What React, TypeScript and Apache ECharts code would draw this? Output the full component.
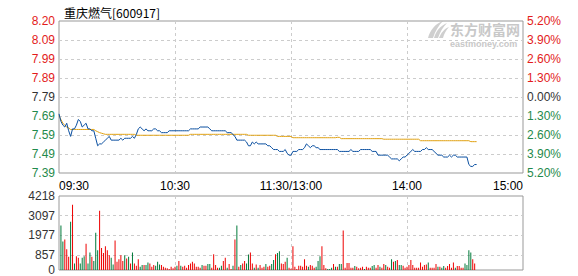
import React, { useEffect, useRef } from 'react';
import * as echarts from 'echarts';

const stockTitle = '重庆燃气[600917]';
const prevClose = 7.79;
const timeLabels = ['09:30', '10:30', '11:30/13:00', '14:00', '15:00'];
const priceLabels = ['7.39', '7.49', '7.59', '7.69', '7.79', '7.89', '7.99', '8.09', '8.20'];
const pctLabels = ['5.20%', '3.90%', '2.60%', '1.30%', '0.00%', '1.30%', '2.60%', '3.90%', '5.20%'];
const volLabelValues = [0, 857, 1977, 3097, 4218];

const prices = [
  7.70, 7.66, 7.64, 7.63, 7.65, 7.61, 7.58, 7.62, 7.62, 7.64,
  7.67, 7.66, 7.63, 7.64, 7.65, 7.62, 7.62, 7.61, 7.61, 7.57,
  7.53, 7.54, 7.54, 7.55, 7.56, 7.57, 7.58, 7.56, 7.56, 7.56,
  7.56, 7.56, 7.57, 7.56, 7.57, 7.57, 7.57, 7.57, 7.58, 7.57,
  7.59, 7.62, 7.63, 7.62, 7.61, 7.62, 7.61, 7.61, 7.61, 7.62,
  7.62, 7.61, 7.61, 7.60, 7.60, 7.60, 7.60, 7.61, 7.61, 7.61,
  7.61, 7.61, 7.61, 7.61, 7.61, 7.61, 7.61, 7.61, 7.62, 7.62,
  7.62, 7.62, 7.62, 7.63, 7.63, 7.63, 7.63, 7.63, 7.62, 7.61,
  7.61, 7.61, 7.61, 7.61, 7.61, 7.61, 7.61, 7.60, 7.60, 7.60,
  7.59, 7.58, 7.56, 7.56, 7.56, 7.56, 7.56, 7.55, 7.53, 7.53,
  7.55, 7.54, 7.55, 7.54, 7.54, 7.54, 7.54, 7.54, 7.53, 7.53,
  7.52, 7.51, 7.51, 7.51, 7.50, 7.50, 7.50, 7.51, 7.49, 7.48,
  7.48, 7.50, 7.50, 7.50, 7.51, 7.51, 7.51, 7.52, 7.54, 7.53,
  7.52, 7.53, 7.53, 7.52, 7.52, 7.51, 7.51, 7.51, 7.51, 7.51,
  7.51, 7.51, 7.51, 7.51, 7.51, 7.50, 7.50, 7.50, 7.50, 7.50,
  7.50, 7.51, 7.50, 7.50, 7.50, 7.50, 7.51, 7.51, 7.51, 7.51,
  7.51, 7.51, 7.50, 7.50, 7.50, 7.48, 7.48, 7.48, 7.48, 7.48,
  7.48, 7.47, 7.46, 7.46, 7.46, 7.46, 7.45, 7.46, 7.47, 7.47,
  7.48, 7.49, 7.50, 7.51, 7.50, 7.50, 7.50, 7.50, 7.51, 7.51,
  7.52, 7.51, 7.51, 7.51, 7.50, 7.49, 7.48, 7.48, 7.48, 7.47,
  7.47, 7.47, 7.48, 7.47, 7.48, 7.48, 7.47, 7.47, 7.47, 7.47,
  7.47, 7.47, 7.43, 7.42, 7.42, 7.43, 7.43,
];

const avgPrices = [
  7.69, 7.67, 7.65, 7.64, 7.63, 7.625, 7.617, 7.617, 7.617, 7.617,
  7.617, 7.617, 7.617, 7.617, 7.617, 7.617, 7.617, 7.617, 7.617, 7.61,
  7.605, 7.60, 7.597, 7.594, 7.591, 7.591, 7.591, 7.591, 7.591, 7.591,
  7.591, 7.591, 7.591, 7.591, 7.591, 7.591, 7.591, 7.591, 7.591, 7.591,
  7.586, 7.586, 7.586, 7.586, 7.586, 7.586, 7.586, 7.586, 7.586, 7.586,
  7.586, 7.586, 7.586, 7.586, 7.586, 7.586, 7.586, 7.586, 7.586, 7.586,
  7.586, 7.586, 7.586, 7.586, 7.586, 7.586, 7.586, 7.586, 7.591, 7.591,
  7.591, 7.591, 7.591, 7.591, 7.591, 7.591, 7.591, 7.591, 7.591, 7.591,
  7.591, 7.591, 7.591, 7.591, 7.591, 7.591, 7.591, 7.591, 7.591, 7.591,
  7.591, 7.591, 7.591, 7.591, 7.591, 7.591, 7.591, 7.591, 7.586, 7.586,
  7.586, 7.586, 7.586, 7.586, 7.586, 7.586, 7.586, 7.586, 7.586, 7.586,
  7.586, 7.586, 7.586, 7.580, 7.580, 7.580, 7.580, 7.580, 7.580, 7.580,
  7.580, 7.573, 7.573, 7.573, 7.573, 7.573, 7.573, 7.573, 7.573, 7.573,
  7.573, 7.573, 7.573, 7.573, 7.573, 7.573, 7.573, 7.573, 7.573, 7.573,
  7.573, 7.573, 7.573, 7.573, 7.575, 7.575, 7.568, 7.568, 7.568, 7.568,
  7.568, 7.568, 7.568, 7.568, 7.568, 7.568, 7.568, 7.568, 7.568, 7.568,
  7.568, 7.568, 7.568, 7.568, 7.568, 7.568, 7.568, 7.568, 7.565, 7.565,
  7.565, 7.565, 7.565, 7.565, 7.565, 7.565, 7.565, 7.565, 7.565, 7.565,
  7.565, 7.565, 7.565, 7.565, 7.565, 7.565, 7.565, 7.557, 7.557, 7.557,
  7.557, 7.557, 7.557, 7.557, 7.557, 7.557, 7.557, 7.557, 7.557, 7.557,
  7.557, 7.557, 7.557, 7.557, 7.557, 7.557, 7.557, 7.557, 7.557, 7.557,
  7.557, 7.557, 7.557, 7.552, 7.552, 7.552, 7.552,
];

const volumes = [
  null, 2531, 1631, 1744, 1181, 750, 2756, 3713, 375, 788,
  694, 375, 694, 788, 1500, 375, 994, 750, 506, 2119,
  1125, 3375, 1256, 975, 1350, 1125, 844, 694, 319, 1688,
  469, 619, 844, 506, 844, 656, 750, 375, 994, 375,
  244, 619, 188, 281, 281, 281, 431, 375, 188, 281,
  244, 469, 319, 281, 188, 131, 94, 56, 188, 94,
  188, 244, 506, 244, 188, 244, 131, 281, 375, 469,
  375, 188, 188, 131, 281, 244, 244, 338, 338, 131,
  900, 281, 131, 131, 244, 506, 694, 131, 338, 56,
  244, 1744, 2531, 188, 281, 375, 506, 375, 881, 994,
  375, 131, 319, 131, 281, 131, 188, 338, 188, 244,
  338, 563, 900, 975, 1069, 375, 338, 469, 694, 131,
  75, 1350, 188, 56, 244, 244, 188, 619, 244, 188,
  281, 244, 131, 188, 506, 788, 1350, 281, 94, 56,
  56, 131, 338, 188, 188, 338, 338, 2250, 131, 394,
  394, 131, 131, 225, 188, 94, 131, 188, 56, 188,
  131, 131, 225, 281, 131, 281, 188, 131, 338, 281,
  188, 131, 619, 469, 506, 563, 281, 281, 244, 131,
  188, 281, 563, 281, 131, 131, 131, 431, 188, 281,
  319, 431, 131, 131, 131, 338, 188, 188, 131, 225,
  131, 225, 338, 131, 431, 131, 225, 225, 131, 131,
  375, 281, 1125, 994, 619, 375,
];

// 1 = rising minute (red bar), 0 = falling minute (green bar)
const volUp = [
  0, 0, 0, 1, 1, 1, 0, 1, 0, 1,
  1, 0, 0, 0, 1, 0, 0, 1, 0, 0,
  0, 1, 1, 1, 1, 1, 1, 0, 0, 1,
  1, 1, 1, 1, 0, 1, 0, 1, 0, 1,
  1, 1, 0, 0, 1, 0, 0, 1, 1, 1,
  0, 0, 0, 1, 1, 1, 1, 1, 1, 1,
  1, 0, 1, 0, 1, 1, 1, 1, 1, 1,
  1, 1, 1, 1, 0, 1, 1, 0, 0, 1,
  1, 1, 1, 0, 0, 1, 1, 0, 1, 1,
  0, 1, 0, 1, 0, 1, 1, 0, 0, 1,
  1, 0, 1, 0, 1, 1, 1, 0, 1, 1,
  0, 0, 1, 0, 0, 1, 1, 1, 0, 1,
  1, 1, 1, 1, 1, 1, 1, 1, 1, 0,
  1, 1, 1, 0, 0, 0, 1, 1, 1, 0,
  0, 0, 1, 0, 1, 0, 0, 1, 1, 1,
  1, 1, 1, 0, 1, 1, 1, 1, 0, 1,
  1, 1, 0, 0, 1, 1, 0, 1, 1, 0,
  1, 1, 0, 1, 0, 1, 0, 0, 1, 1,
  1, 1, 1, 1, 1, 1, 1, 1, 1, 1,
  1, 0, 1, 1, 1, 1, 0, 1, 0, 0,
  1, 1, 1, 1, 1, 0, 1, 1, 1, 1,
  0, 0, 0, 0, 1, 1,
];

const RED = '#e31b1b';
const GREEN = '#1f8a4c';
const DARK = '#333333';
const BAR_RED = '#ee0000';
const BAR_GREEN = '#007a3a';
const FONT = 'Liberation Sans';

echarts.graphic.registerShape(
  'emlogo',
  echarts.graphic.extendPath(
    'M0,17 C2,9 7,3 15,0 C11,4 7,10 5,17 Z M6,17 C8,10 12,5 19,2 C15,6 12,11 10,17 Z M11,17 C13,12 16,8 21,6 C18,9 16,13 15,17 Z',
    {}
  )
);

export default function App() {
  const ref = useRef<HTMLDivElement>(null);

  useEffect(() => {
    document.body.style.margin = '0';
    if (!ref.current) return;
    const chart = echarts.init(ref.current, undefined, { renderer: 'svg' });

    const categories = Array.from({ length: 241 }, (_, i) => String(i));
    const pct = (p: number | null) => (p == null ? null : (p / prevClose - 1) * 100);
    const idxFromPct = (v: number) => Math.round(v / 1.3) + 4;
    const pctColor = (val: any) => {
      const v = Number(val);
      if (v > 0.01) return RED;
      if (v < -0.01) return GREEN;
      return DARK;
    };
    const dashed = { type: [3, 3] as any, color: '#cccccc', width: 1 };
    const innerTick = (i: number) => i % 60 === 0 && i > 0 && i < 240;

    const option: any = {
      animation: false,
      backgroundColor: '#ffffff',
      title: {
        text: stockTitle,
        left: 59,
        top: 1,
        textStyle: { fontSize: 12, fontWeight: 'normal', color: '#000', fontFamily: 'Noto Sans CJK SC' },
      },
      graphic: [
        {
          type: 'emlogo',
          x: 428,
          y: 21,
          scaleX: 1,
          scaleY: 1,
          z: -1,
          style: { fill: '#cfcfcf' },
        },
        {
          type: 'text',
          x: 450,
          y: 22,
          z: -1,
          style: {
            text: '东方财富网',
            fill: '#c8c8c8',
            font: 'bold 14px "Noto Sans CJK SC"',
            verticalAlign: 'top',
            align: 'left',
          },
        },
        {
          type: 'text',
          x: 450,
          y: 39,
          z: -1,
          style: {
            text: 'eastmoney.com',
            fill: '#c8c8c8',
            font: 'bold 9px "Liberation Sans"',
            verticalAlign: 'top',
            align: 'left',
          },
        },
      ],
      grid: [
        { left: 59, top: 21, width: 464, height: 152, show: true, borderColor: '#999', borderWidth: 1, backgroundColor: 'transparent' },
        { left: 59, top: 196, width: 464, height: 75, show: true, borderColor: '#999', borderWidth: 1, backgroundColor: 'transparent' },
      ],
      xAxis: [
        {
          type: 'category',
          gridIndex: 0,
          data: categories,
          boundaryGap: false,
          axisLine: { show: false },
          axisTick: { show: false },
          axisLabel: {
            interval: (i: number) => i % 60 === 0,
            formatter: (_v: string, i: number) => timeLabels[Math.round(i / 60)],
            color: '#000',
            fontSize: 12,
            fontFamily: FONT,
            margin: 7,
            alignMinLabel: 'left',
            alignMaxLabel: 'right',
          },
          splitLine: { show: true, interval: innerTick, lineStyle: dashed },
        },
        {
          type: 'category',
          gridIndex: 1,
          data: categories,
          boundaryGap: false,
          axisLine: { show: false },
          axisTick: { show: false },
          axisLabel: { show: false },
          splitLine: { show: true, interval: innerTick, lineStyle: dashed },
        },
      ],
      yAxis: [
        {
          type: 'value',
          gridIndex: 0,
          position: 'left',
          min: -5.2,
          max: 5.2,
          interval: 1.3,
          axisLine: { show: false },
          axisTick: { show: false },
          axisLabel: {
            formatter: (v: number) => priceLabels[idxFromPct(v)],
            color: pctColor,
            fontSize: 12,
            fontFamily: FONT,
            margin: 4,
          },
          splitLine: { show: true, lineStyle: dashed, showMinLine: false, showMaxLine: false },
        },
        {
          type: 'value',
          gridIndex: 0,
          position: 'right',
          min: -5.2,
          max: 5.2,
          interval: 1.3,
          axisLine: { show: false },
          axisTick: { show: false },
          axisLabel: {
            formatter: (v: number) => pctLabels[idxFromPct(v)],
            color: pctColor,
            fontSize: 12,
            fontFamily: FONT,
            margin: 4,
          },
          splitLine: { show: false },
        },
        {
          type: 'value',
          gridIndex: 1,
          position: 'left',
          min: 0,
          max: 4218,
          axisLine: { show: false },
          axisTick: { show: false, customValues: volLabelValues },
          axisLabel: {
            customValues: volLabelValues,
            formatter: (v: number) => String(v),
            color: DARK,
            fontSize: 12,
            fontFamily: FONT,
            margin: 4,
          },
          splitLine: { show: true, lineStyle: dashed, showMinLine: false, showMaxLine: false },
        },
      ],
      series: [
        {
          type: 'line',
          name: 'avg',
          xAxisIndex: 0,
          yAxisIndex: 0,
          data: avgPrices.map(pct),
          showSymbol: false,
          symbol: 'none',
          lineStyle: { color: '#e0a010', width: 1 },
          z: 2,
        },
        {
          type: 'line',
          name: 'price',
          xAxisIndex: 0,
          yAxisIndex: 0,
          data: prices.map(pct),
          showSymbol: false,
          symbol: 'none',
          lineStyle: { color: '#0a4fa0', width: 1 },
          z: 3,
        },
        {
          type: 'bar',
          name: 'volume',
          xAxisIndex: 1,
          yAxisIndex: 2,
          barWidth: 1,
          data: volumes.map((v, i) =>
            v == null ? null : { value: v, itemStyle: { color: volUp[i] ? BAR_RED : BAR_GREEN } }
          ),
        },
      ],
    };

    chart.setOption(option);
    return () => chart.dispose();
  }, []);

  return <div ref={ref} style={{ width: 578, height: 276, position: 'absolute', left: 0, top: 0 }} />;
}
